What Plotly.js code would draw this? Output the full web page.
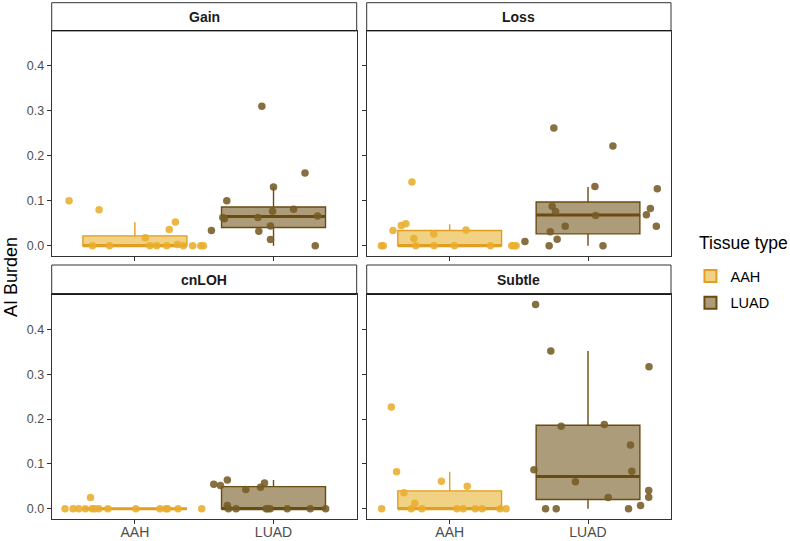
<!DOCTYPE html>
<html>
<head>
<meta charset="utf-8">
<script src="https://cdn.plot.ly/plotly-3.0.1.min.js"></script>
<style>html,body{margin:0;padding:0;background:#fff;}#chart{width:790px;height:541px;}</style>
</head>
<body>
<div id="chart"></div>
<script>
// ---- data ----
const panels = ['Gain', 'Loss', 'cnLOH', 'Subtle'];
const groups = ['AAH', 'LUAD'];
const xTickLabels = ['AAH', 'LUAD'];
const yTicks = [0, 0.1, 0.2, 0.3, 0.4];

// jittered points: values and horizontal jitter offsets (category units)
const gainAAH_y  = [0.100, 0.080, 0, 0, 0.018, 0, 0, 0, 0.036, 0.053, 0.003, 0, 0, 0, 0];
const gainAAH_dx = [-0.475, -0.258, -0.306, -0.183, 0.075, 0.108, 0.157, 0.229, 0.248, 0.292, 0.306, 0.349, 0.417, 0.475, 0.494];
const gainLUAD_y  = [0.034, 0.063, 0.060, 0.100, 0.063, 0.032, 0.310, 0.044, 0.014, 0.077, 0.1305, 0.081, 0.162, 0, 0.066];
const gainLUAD_dx = [-0.448, -0.366, -0.354, -0.337, -0.113, -0.106, -0.084, -0.022, -0.022, -0.007, 0, 0.145, 0.227, 0.301, 0.318];

const lossAAH_y  = [0, 0, 0.034, 0.045, 0.049, 0.142, 0.016, 0, 0.026, 0, 0, 0.035, 0, 0, 0, 0];
const lossAAH_dx = [-0.494, -0.480, -0.410, -0.350, -0.317, -0.273, -0.259, -0.245, -0.115, -0.113, 0.034, 0.118, 0.295, 0.448, 0.465, 0.480];
const lossLUAD_y  = [0.0096, 0, 0.031, 0.088, 0.262, 0.076, 0.0147, 0.0435, 0.132, 0.067, 0, 0.222, 0.069, 0.0826, 0.0435, 0.127];
const lossLUAD_dx = [-0.456, -0.281, -0.273, -0.259, -0.247, -0.235, -0.223, -0.165, 0.050, 0.055, 0.108, 0.180, 0.422, 0.451, 0.494, 0.501];

const cnlohAAH_y  = [0, 0, 0, 0, 0.025, 0, 0, 0, 0, 0, 0, 0, 0, 0, 0];
const cnlohAAH_dx = [-0.504, -0.446, -0.405, -0.357, -0.320, -0.308, -0.289, -0.260, -0.195, 0.007, 0.181, 0.224, 0.236, 0.311, 0.482];
const cnlohLUAD_y  = [0.0547, 0.0518, 0.0643, 0.0074, 0, 0, 0.0429, 0.048, 0.0577, 0, 0, 0, 0, 0, 0];
const cnlohLUAD_dx = [-0.431, -0.383, -0.333, -0.333, -0.325, -0.270, -0.200, -0.094, -0.065, -0.053, -0.041, -0.024, 0.099, 0.265, 0.376];

const subtleAAH_y  = [0, 0.227, 0.0828, 0.0355, 0, 0.0126, 0, 0.0614, 0, 0, 0.0503, 0, 0, 0, 0];
const subtleAAH_dx = [-0.492, -0.422, -0.384, -0.331, -0.278, -0.252, -0.201, -0.060, 0.053, 0.098, 0.127, 0.185, 0.235, 0.365, 0.408];
const subtleLUAD_y  = [0.0872, 0.4555, 0, 0.352, 0, 0.184, 0.060, 0.188, 0.025, 0, 0.142, 0.0835, 0.0074, 0.0407, 0.0259, 0.3165];
const subtleLUAD_dx = [-0.391, -0.379, -0.307, -0.269, -0.230, -0.194, -0.091, 0.118, 0.146, 0.293, 0.307, 0.317, 0.380, 0.439, 0.439, 0.441];

// box statistics per panel (order: Gain, Loss, cnLOH, Subtle)
const aahLower  = [0, 0, 0, 0];
const aahQ1     = [0, 0, 0, 0];
const aahMedian = [0, 0, 0, 0];
const aahQ3     = [0.022, 0.034, 0, 0.040];
const aahUpper  = [0.052, 0.048, 0, 0.0828];
const luadLower  = [0, 0, 0, 0];
const luadQ1     = [0.0407, 0.0265, 0, 0.0207];
const luadMedian = [0.065, 0.0686, 0, 0.0717];
const luadQ3     = [0.0863, 0.0973, 0.0495, 0.1863];
const luadUpper  = [0.1305, 0.1305, 0.064, 0.352];

const pointsY = {
  AAH:  [gainAAH_y, lossAAH_y, cnlohAAH_y, subtleAAH_y],
  LUAD: [gainLUAD_y, lossLUAD_y, cnlohLUAD_y, subtleLUAD_y]
};
const pointsDx = {
  AAH:  [gainAAH_dx, lossAAH_dx, cnlohAAH_dx, subtleAAH_dx],
  LUAD: [gainLUAD_dx, lossLUAD_dx, cnlohLUAD_dx, subtleLUAD_dx]
};
const boxStats = {
  AAH:  {lo: aahLower, q1: aahQ1, med: aahMedian, q3: aahQ3, hi: aahUpper},
  LUAD: {lo: luadLower, q1: luadQ1, med: luadMedian, q3: luadQ3, hi: luadUpper}
};

// ---- styles ----
const style = {
  AAH:  {point: 'rgba(232,174,46,0.88)', fill: 'rgba(236,194,90,0.75)', line: '#E29E22'},
  LUAD: {point: 'rgba(117,91,38,0.88)', fill: 'rgba(140,118,70,0.72)', line: '#6A4B12'}
};
const W = 790, H = 541;
const colDom = [[51.7 / W, 356.7 / W], [366.7 / W, 671 / W]];
const rowPx = [[30.7, 256], [294.3, 519]];
const stripPx = [[2.7, 30.7], [265, 294.3]];
const rowDom = rowPx.map(r => [1 - r[1] / H, 1 - r[0] / H]);
const boxWidth = 0.75;

const traces = [];
const layout = {
  width: W, height: H,
  margin: {l: 0, r: 0, t: 0, b: 0},
  paper_bgcolor: '#fff', plot_bgcolor: '#fff',
  font: {family: 'Liberation Sans, Arial, sans-serif', color: '#000'},
  showlegend: true,
  legend: {
    x: 0.874, y: 1 - 260 / H, xanchor: 'left', yanchor: 'top',
    font: {size: 14.5, color: '#000'},
    tracegroupgap: 5, itemsizing: 'constant', bgcolor: 'rgba(0,0,0,0)'
  },
  shapes: [], annotations: []
};

panels.forEach((name, p) => {
  const r = Math.floor(p / 2), c = p % 2;
  const idx = p === 0 ? '' : String(p + 1);
  const xa = 'x' + idx, ya = 'y' + idx;
  layout['xaxis' + idx] = {
    domain: colDom[c], anchor: ya, range: [0.4, 2.6],
    tickvals: [1, 2], ticktext: xTickLabels, showticklabels: r === 1,
    ticks: 'outside', ticklen: 4, tickwidth: 1, tickcolor: '#333',
    ticklabelstandoff: -4,
    tickfont: {size: 14, color: '#4d4d4d'},
    showgrid: false, zeroline: false, showline: true, mirror: true,
    linecolor: '#333', linewidth: 1
  };
  layout['yaxis' + idx] = {
    domain: rowDom[r], anchor: xa, range: [-0.0228, 0.4783],
    tickvals: yTicks, tickformat: '.1f', showticklabels: c === 0,
    ticks: 'outside', ticklen: 4, tickwidth: 1, tickcolor: '#333',
    tickfont: {size: 12.5, color: '#4d4d4d'},
    showgrid: false, zeroline: false, showline: true, mirror: true,
    linecolor: '#333', linewidth: 1
  };
  // strip
  const sx0 = colDom[c][0], sx1 = colDom[c][1];
  layout.shapes.push({
    type: 'rect', xref: 'paper', yref: 'paper',
    x0: sx0, x1: sx1, y0: 1 - stripPx[r][1] / H, y1: 1 - stripPx[r][0] / H,
    fillcolor: '#fff', line: {color: '#333', width: 1}, layer: 'below'
  });
  layout.shapes.push({
    type: 'line', xref: 'paper', yref: 'paper',
    x0: sx0, x1: sx1, y0: 1 - stripPx[r][1] / H, y1: 1 - stripPx[r][1] / H,
    line: {color: '#1a1a1a', width: 1.3}
  });
  layout.annotations.push({
    xref: 'paper', yref: 'paper', x: (sx0 + sx1) / 2,
    y: 1 - (stripPx[r][0] + stripPx[r][1]) / 2 / H,
    text: '<b>' + name + '</b>', showarrow: false,
    font: {size: 14, color: '#1a1a1a'}, xanchor: 'center', yanchor: 'middle'
  });

  groups.forEach((g, gi) => {
    const pos = gi + 1;
    const s = boxStats[g];
    traces.push({
      type: 'box', xaxis: xa, yaxis: ya, name: g, legendgroup: g,
      showlegend: p === 0,
      x: [pos], q1: [s.q1[p]], median: [s.med[p]], q3: [s.q3[p]],
      lowerfence: [s.lo[p]], upperfence: [s.hi[p]],
      width: boxWidth, whiskerwidth: 0, boxpoints: false,
      fillcolor: style[g].fill, line: {color: style[g].line, width: 1.4},
      hoverinfo: 'skip'
    });
    // thicker median (ggplot fatten)
    traces.push({
      type: 'scatter', mode: 'lines', xaxis: xa, yaxis: ya, showlegend: false,
      x: [pos - boxWidth / 2, pos + boxWidth / 2], y: [s.med[p], s.med[p]],
      line: {color: style[g].line, width: 3}, hoverinfo: 'skip'
    });
  });
  groups.forEach((g, gi) => {
    const pos = gi + 1;
    traces.push({
      type: 'scatter', mode: 'markers', xaxis: xa, yaxis: ya, showlegend: false,
      x: pointsDx[g][p].map(d => pos + d), y: pointsY[g][p],
      marker: {color: style[g].point, size: 7.5, line: {width: 0}},
      hoverinfo: 'skip'
    });
  });
});

layout.annotations.push({
  xref: 'paper', yref: 'paper', x: 11 / W, y: 1 - 277 / H,
  text: 'AI Burden', textangle: -90, showarrow: false,
  font: {size: 18, color: '#000'}, xanchor: 'center', yanchor: 'middle'
});
layout.annotations.push({
  xref: 'paper', yref: 'paper', x: 697 / W, y: 1 - 243 / H,
  text: 'Tissue type', showarrow: false,
  font: {size: 17.5, color: '#000'}, xanchor: 'left', yanchor: 'middle'
});

Plotly.newPlot('chart', traces, layout, {displayModeBar: false, staticPlot: true});
</script>
</body>
</html>
